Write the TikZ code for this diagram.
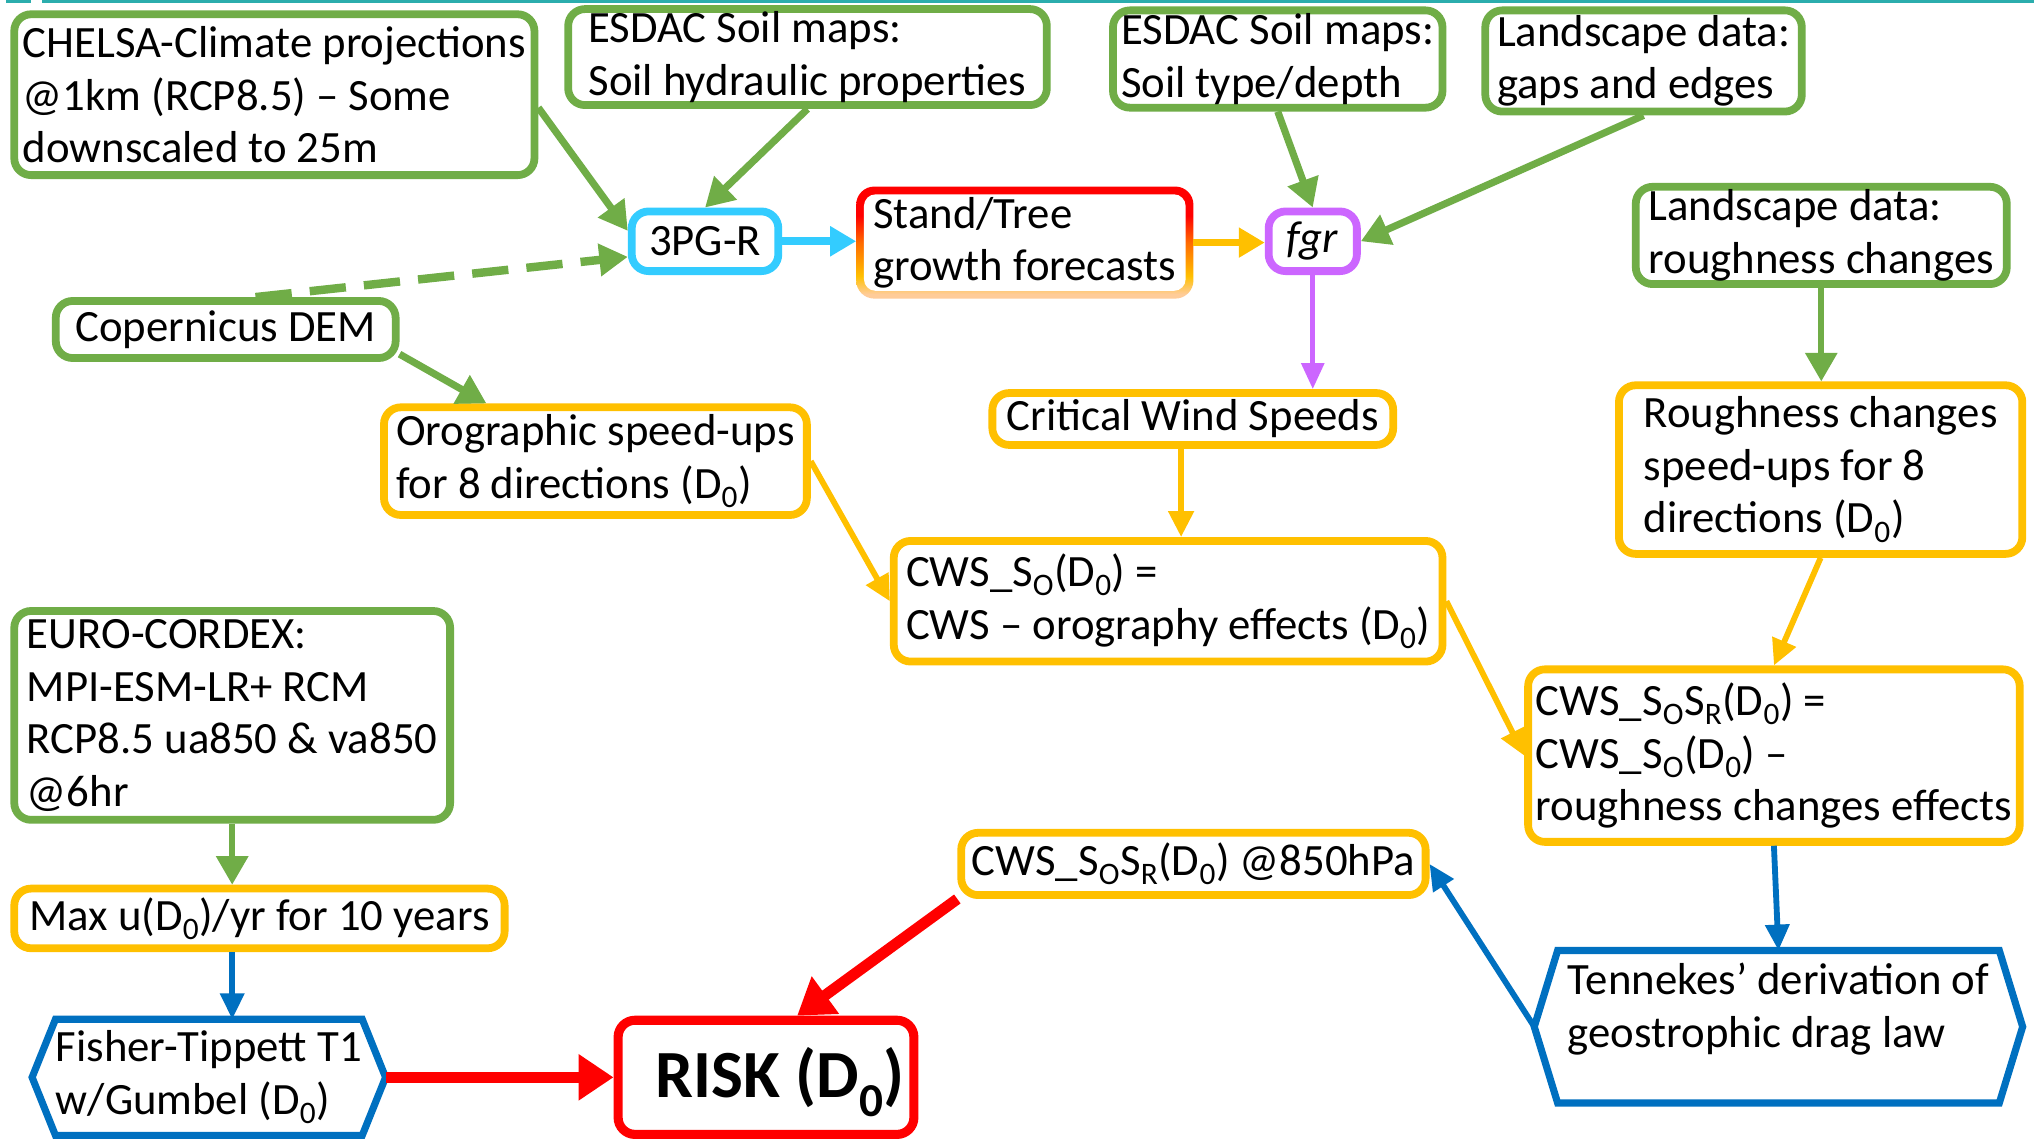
\documentclass[tikz,border=0pt]{standalone}
\usepackage{fontspec}
\setmainfont{Carlito}
\usetikzlibrary{arrows.meta,calc,backgrounds}

\definecolor{grn}{HTML}{70AD47}
\definecolor{cyn}{HTML}{33CCFF}
\definecolor{gold}{HTML}{FFC000}
\definecolor{vio}{HTML}{CC66FF}
\definecolor{blu}{HTML}{0070C0}
\definecolor{rd}{HTML}{FF0000}
\definecolor{teal1}{HTML}{2BADAD}
\definecolor{peach}{HTML}{FFCC99}
\definecolor{redor}{HTML}{FF6A00}

% border colour of the growth-forecast box: red on top fading to peach below
\pgfdeclareverticalshading{standgrad}{100bp}{color(0bp)=(peach); color(27bp)=(peach); color(35bp)=(gold); color(50bp)=(redor); color(62bp)=(rd); color(100bp)=(rd)}

\tikzset{
  every node/.style={font=\fontsize{34.5pt}{40.5pt}\selectfont, inner sep=2pt, align=left},
  box/.style={draw=#1, line width=6pt, rounded corners=13pt, fill=white},
  hexbox/.style={draw=none, outer sep=0pt, inner sep=2pt},
  hexline/.style={draw=blu, line width=5.5pt, line join=miter},
  garr/.style={draw=grn, line width=5.5pt, -{Triangle[length=22pt,width=24pt]}},
  yarr/.style={draw=gold, line width=4.5pt, -{Triangle[length=20pt,width=19pt]}},
  barr/.style={draw=blu, line width=4.5pt, -{Triangle[length=20pt,width=18pt]}},
  rarr/.style={draw=rd, line width=8.5pt, -{Triangle[length=27pt,width=34pt]}},
}

\begin{document}
\begin{tikzpicture}[x=1pt,y=-1pt]
\useasboundingbox (0,0) rectangle (1568,878);
\begin{scope}[on background layer]
  \fill[white] (0,0) rectangle (1568,878);
\end{scope}

% thin rule along the top edge
\fill[teal1] (5,0) rectangle (24,2.5);
\fill[teal1] (32,0) rectangle (1568,2.5);

% ---------------- input data (green) ----------------
\node[box=grn, minimum width=401pt, minimum height=124pt] (chelsa) at (211.5,73)
  {CHELSA-Climate projections\\@1km (RCP8.5) – Some\\downscaled to 25m};
\node[box=grn, minimum width=369pt, minimum height=74pt] (esdac1) at (622.5,44)
  {ESDAC Soil maps:\\Soil hydraulic properties};
\node[box=grn, minimum width=254pt, minimum height=75pt] (esdac2) at (985,45.5)
  {ESDAC Soil maps:\\Soil type/depth};
\node[box=grn, minimum width=244pt, minimum height=78pt] (gaps) at (1267,47)
  {Landscape data:\\gaps and edges};
\node[box=grn, minimum width=286pt, minimum height=75pt] (rough1) at (1404,181.5)
  {Landscape data:\\roughness changes};
\node[box=grn, minimum width=262pt, minimum height=44pt] (dem) at (174,254)
  {Copernicus DEM};
\node[box=grn, minimum width=336pt, minimum height=161pt] (euro) at (179,551.5)
  {EURO-CORDEX:\\MPI-ESM-LR+ RCM\\RCP8.5 ua850 \& va850\\@6hr};

% ---------------- models ----------------
\node[box=cyn, minimum width=113pt, minimum height=46pt] (pg) at (543.5,186) {3PG-R};
\node[fill=white, rounded corners=9pt, minimum width=248pt, minimum height=72pt, outer sep=6pt] (stand) at (790,187)
  {Stand/Tree\\growth forecasts};
\node[box=vio, minimum width=68pt, minimum height=46pt] (fgr) at (1012,186) {\textit{fgr}};

% ---------------- intermediate results (gold) ----------------
\node[box=gold, minimum width=326pt, minimum height=83pt] (oro) at (459,355.5)
  {Orographic speed-ups\\for 8 directions (D\textsubscript{0})};
\node[box=gold, minimum width=309pt, minimum height=40pt] (cws) at (919.5,323)
  {Critical Wind Speeds};
\node[box=gold, minimum width=311pt, minimum height=130pt] (rough2) at (1403.5,362)
  {Roughness changes\\speed-ups for 8\\directions (D\textsubscript{0})};
\node[box=gold, minimum width=423pt, minimum height=93pt] (cwsso) at (900.5,463.5)
  {CWS\_S\textsubscript{O}(D\textsubscript{0}) =\\CWS – orography effects (D\textsubscript{0})};
\node[box=gold, minimum width=379pt, minimum height=133pt] (cwssosr) at (1367.5,582.5)
  {CWS\_S\textsubscript{O}S\textsubscript{R}(D\textsubscript{0}) =\\CWS\_S\textsubscript{O}(D\textsubscript{0}) –\\roughness changes effects};
\node[box=gold, minimum width=378pt, minimum height=46pt] (maxu) at (200,708)
  {Max u(D\textsubscript{0})/yr for 10 years};
\node[box=gold, minimum width=358pt, minimum height=48pt] (cws850) at (920,666)
  {CWS\_S\textsubscript{O}S\textsubscript{R}(D\textsubscript{0}) @850hPa};

% ---------------- methods (blue hexagons) ----------------
\node[hexbox, minimum width=376.5pt, minimum height=117.5pt, text depth=33pt] (tenn) at (1371,791.5)
  {Tennekes’ derivation of\\geostrophic drag law};
\draw[hexline] (tenn.west) -- ($(tenn.north west)+(18,0)$) -- ($(tenn.north east)+(-18,0)$)
  -- (tenn.east) -- ($(tenn.south east)+(-18,0)$) -- ($(tenn.south west)+(18,0)$) -- cycle;
\node[hexbox, minimum width=272.5pt, minimum height=89.5pt] (fisher) at (161,830.5)
  {Fisher-Tippett T1\\w/Gumbel (D\textsubscript{0})};
\draw[hexline] (fisher.west) -- ($(fisher.north west)+(18,0)$) -- ($(fisher.north east)+(-18,0)$)
  -- (fisher.east) -- ($(fisher.south east)+(-18,0)$) -- ($(fisher.south west)+(18,0)$) -- cycle;

% ---------------- result ----------------
\node[box=rd, line width=7pt, minimum width=228pt, minimum height=88pt, text height=46pt,
      font=\fontsize{52pt}{60pt}\selectfont\bfseries] (risk) at (590.5,830.5)
  {\hspace*{22pt}RISK (D\textsubscript{0})};

% gradient border of the growth-forecast box
\begin{scope}[on background layer]
  \shade[shading=standgrad, rounded corners=14pt] (stand.north west) rectangle (stand.south east);
\end{scope}

% ---------------- connectors ----------------
\draw[garr] ($(chelsa.east)+(0,10)$) -- ($(pg.west)+(0,-8)$);
\draw[garr] (esdac1.south) -- (pg.north);
\draw[garr, line width=6.5pt, dash pattern=on 28pt off 14pt] ($(dem.north)+(23,0)$) -- ($(pg.west)+(0,12)$);
\draw[garr] ($(dem.south east)+(0,-6)$) -- ($(oro.north)+(-84,0)$);
\draw[draw=cyn, line width=6pt, -{Triangle[length=20pt,width=22pt]}] (pg.east) -- (pg.east -| stand.west);
\draw[draw=gold, line width=6pt, -{Triangle[length=20pt,width=22pt]}] (stand.east) -- (stand.east -| fgr.west);
\draw[garr] (esdac2.south) -- (fgr.north);
\draw[garr] (gaps.south) -- (fgr.east);
\draw[draw=vio, line width=4pt, -{Triangle[length=20pt,width=17pt]}] (fgr.south) -- (fgr.south |- cws.north);
\coordinate (cwsout) at ($(cws.south)+(-9,0)$);
\draw[yarr] (cwsout) -- (cwsout |- cwsso.north);
\draw[yarr] (oro.east) -- (cwsso.west);
\draw[garr, line width=4.5pt] (rough1.south) -- (rough1.south |- rough2.north);
\draw[yarr] (rough2.south) -- (cwssosr.north);
\draw[yarr] (cwsso.east) -- (cwssosr.west);
\draw[barr] (cwssosr.south) -- (tenn.north);
\draw[barr] (tenn.west) -- (cws850.east);
\draw[garr, line width=4.5pt] (euro.south) -- (euro.south |- maxu.north);
\coordinate (maxout) at ($(maxu.south)+(-21,0)$);
\draw[barr] (maxout) -- (maxout |- fisher.north);
\draw[rarr] (fisher.east) -- (fisher.east -| risk.west);
\draw[rarr] (cws850.south west) -- ($(risk.north)+(24,0)$);
\end{tikzpicture}
\end{document}
